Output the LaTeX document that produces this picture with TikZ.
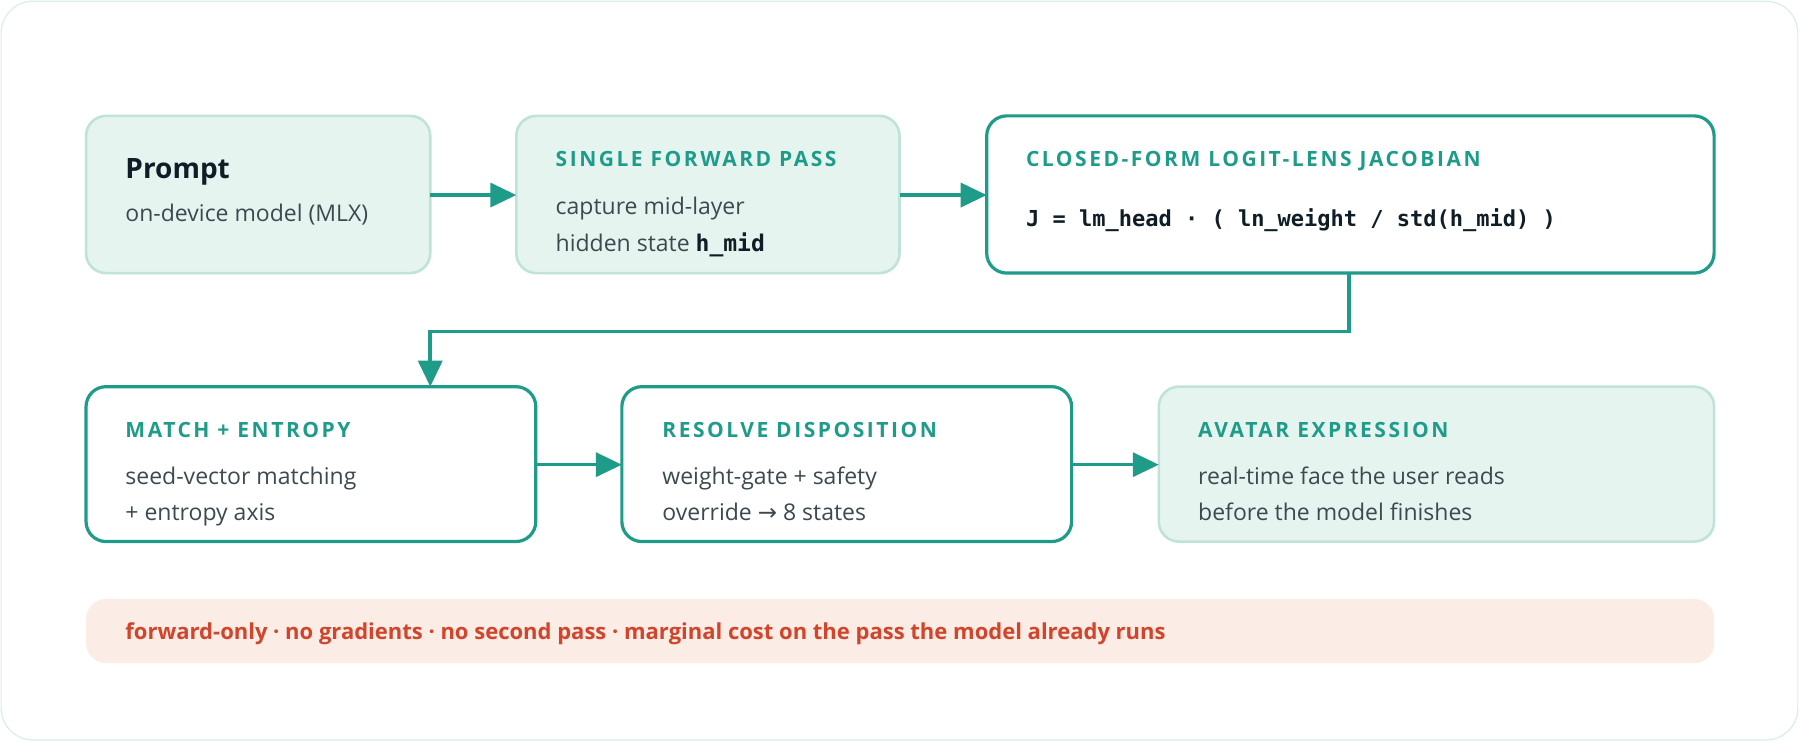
\documentclass[tikz,border=0pt]{standalone}
\usepackage{fontspec}
\setmainfont{Open Sans}
\newfontfamily\capsfont[LetterSpace=12]{Open Sans}
\newfontfamily\symfont{DejaVu Sans}
\setmonofont{DejaVu Sans Mono}
\usetikzlibrary{arrows.meta}
\definecolor{teal}{HTML}{1E9C89}
\definecolor{lightfill}{HTML}{E6F4F0}
\definecolor{lightline}{HTML}{BFE3D8}
\definecolor{txt}{HTML}{3C4A50}
\definecolor{dark}{HTML}{0F1E26}
\definecolor{warnfill}{HTML}{FBECE6}
\definecolor{warntxt}{HTML}{D0452B}
\tikzset{
 soft/.style={draw=lightline,fill=lightfill,line width=1.3pt,rounded corners=10pt},
 strong/.style={draw=teal,fill=white,line width=1.6pt,rounded corners=10pt},
 ttl/.style={anchor=base west,text=teal,font=\capsfont\bfseries\fontsize{10.5}{12}\selectfont,inner sep=0},
 bod/.style={anchor=base west,text=txt,font=\fontsize{11.5}{14}\selectfont,inner sep=0},
 conn/.style={draw=teal,line width=1.8pt,-{Triangle[length=13pt,width=12pt]}}
}
\begin{document}
\begin{tikzpicture}[x=0.5737pt,y=-0.5737pt]
\useasboundingbox (0,0) rectangle (1568,646);
\draw[draw=lightline!60,fill=white,line width=0.6pt,rounded corners=16pt] (1,1) rectangle (1567,645);
% row 1
\path[soft] (75,101) rectangle (375,238);
\node[anchor=base west,text=dark,font=\bfseries\fontsize{14}{16}\selectfont,inner sep=0] (At) at (109,156) {Prompt};
\node[bod] (Ab) at (109,193) {on-device model (MLX)};
\path[soft] (450,101) rectangle (784,238);
\node[ttl] (Bt) at (484,145) {SINGLE FORWARD PASS};
\node[bod] (Bb1) at (484,187) {capture mid-layer};
\node[bod] (Bb2) at (484,219) {hidden state \texttt{\bfseries\color{dark}h\_mid}};
\path[strong] (860,101) rectangle (1494,238);
\node[ttl] (Ct) at (894,145) {CLOSED-FORM LOGIT-LENS JACOBIAN};
\node[anchor=base west,text=dark,font=\ttfamily\bfseries\fontsize{11}{13}\selectfont,inner sep=0] (Cb) at (894,197) {J = lm\_head · ( ln\_weight / std(h\_mid) )};
% row 2
\path[strong] (75,337) rectangle (467,472);
\node[ttl] (Dt) at (109,381) {MATCH + ENTROPY};
\node[bod] (Db1) at (109,422) {seed-vector matching};
\node[bod] (Db2) at (109,454) {+ entropy axis};
\path[strong] (542,337) rectangle (934,472);
\node[ttl] (Et) at (577,381) {RESOLVE DISPOSITION};
\node[bod] (Eb1) at (577,422) {weight-gate + safety};
\node[bod] (Eb2) at (577,454) {override {\symfont →} 8 states};
\path[soft] (1010,337) rectangle (1494,472);
\node[ttl] (Ft) at (1044,381) {AVATAR EXPRESSION};
\node[bod] (Fb1) at (1044,422) {real-time face the user reads};
\node[bod] (Fb2) at (1044,454) {before the model finishes};
% bottom
\path[fill=warnfill,rounded corners=10pt] (75,522) rectangle (1494,578);
\node[anchor=base west,text=warntxt,font=\bfseries\fontsize{11}{13}\selectfont,inner sep=0] (G) at (109,557) {forward-only · no gradients · no second pass · marginal cost on the pass the model already runs};
% connectors
\coordinate (a1) at (375,170); \coordinate (b0) at (450,170);
\coordinate (b1) at (784,170); \coordinate (c0) at (860,170);
\coordinate (c1) at (1176,238); \coordinate (k1) at (1176,289); \coordinate (k2) at (375,289); \coordinate (d0) at (375,337);
\coordinate (d1) at (467,405); \coordinate (e0) at (542,405);
\coordinate (e1) at (934,405); \coordinate (f0) at (1010,405);
\draw[conn] (a1) -- (b0);
\draw[conn] (b1) -- (c0);
\draw[conn] (c1) -- (k1) -- (k2) -- (d0);
\draw[conn] (d1) -- (e0);
\draw[conn] (e1) -- (f0);
\end{tikzpicture}
\end{document}
